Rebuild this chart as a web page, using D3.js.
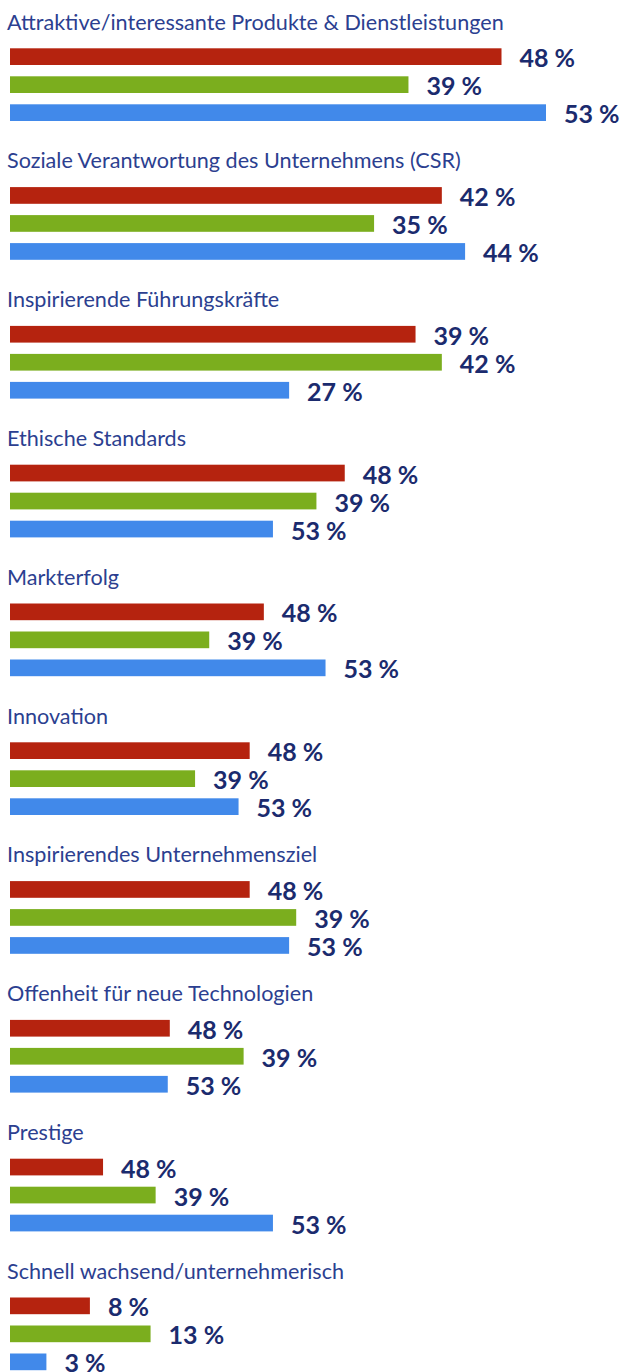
<!DOCTYPE html>
<html>
<head>
<meta charset="utf-8">
<script src="https://cdn.jsdelivr.net/npm/d3@7"></script>
<style>
  html, body { margin: 0; padding: 0; background: #ffffff; }
  svg { display: block; }
</style>
</head>
<body>
<script>
// ---- data ----
const categories = [
  "Attraktive/interessante Produkte & Dienstleistungen",
  "Soziale Verantwortung des Unternehmens (CSR)",
  "Inspirierende Führungskräfte",
  "Ethische Standards",
  "Markterfolg",
  "Innovation",
  "Inspirierendes Unternehmensziel",
  "Offenheit für neue Technologien",
  "Prestige",
  "Schnell wachsend/unternehmerisch"
];
const seriesNames = ["rot", "grün", "blau"];
// bar lengths as drawn (in %)
const redValues   = [48.6, 42.7, 40.1, 33.1, 25.1, 23.7, 23.7, 15.8, 9.2, 7.9];
const greenValues = [39.4, 36.0, 42.7, 30.3, 19.7, 18.3, 28.3, 23.1, 14.4, 13.9];
const blueValues  = [53.0, 45.0, 27.6, 26.0, 31.2, 22.6, 27.6, 15.6, 26.0, 3.6];
// printed value labels
const redLabels   = [48, 42, 39, 48, 48, 48, 48, 48, 48, 8];
const greenLabels = [39, 35, 42, 39, 39, 39, 39, 39, 39, 13];
const blueLabels  = [53, 44, 27, 53, 53, 53, 53, 53, 53, 3];
const seriesColors = ["#b5230f", "#7bae1e", "#4189ea"];

// ---- layout ----
const W = 623, H = 1372;
const groupStep = 138.8;
const titleBaseline = 29.5;
const barsTop = 48.3, barStep = 28, barH = 16.7;

const rows = categories.map((c, i) => ({
  cat: c,
  bars: [
    { s: seriesNames[0], v: redValues[i],   lab: redLabels[i] },
    { s: seriesNames[1], v: greenValues[i], lab: greenLabels[i] },
    { s: seriesNames[2], v: blueValues[i],  lab: blueLabels[i] }
  ]
}));

const svg = d3.select("body").append("svg").attr("width", W).attr("height", H);

const x = d3.scaleLinear().domain([0, 53]).range([10, 546]);
const yGroup = d3.scaleBand().domain(categories).range([0, groupStep * categories.length]).padding(0);
const yBar = d3.scaleBand().domain(seriesNames)
  .range([barsTop, barsTop + 2 * barStep + barH])
  .paddingInner(1 - barH / barStep).paddingOuter(0);
const color = d3.scaleOrdinal().domain(seriesNames).range(seriesColors);

const g = svg.selectAll("g.grp").data(rows).join("g")
  .attr("class", "grp")
  .attr("transform", d => `translate(0,${yGroup(d.cat)})`);

g.append("text")
  .attr("x", 7)
  .attr("y", titleBaseline)
  .attr("fill", "#2c3f90")
  .style("font-family", "Lato, 'Noto Sans', sans-serif")
  .style("font-size", "21.6px")
  .text(d => d.cat);

g.selectAll("rect").data(d => d.bars).join("rect")
  .attr("x", x(0))
  .attr("y", d => yBar(d.s))
  .attr("width", d => x(d.v) - x(0))
  .attr("height", yBar.bandwidth())
  .attr("fill", d => color(d.s));

g.selectAll("text.lab").data(d => d.bars).join("text")
  .attr("class", "lab")
  .attr("x", d => x(d.v) + 18)
  .attr("y", d => yBar(d.s) + yBar.bandwidth() + 2.2)
  .attr("fill", "#1b2b6e")
  .style("font-family", "Lato, 'Noto Sans', sans-serif")
  .style("font-weight", "700")
  .style("font-size", "25px")
  .text(d => d.lab + " %");
</script>
</body>
</html>
